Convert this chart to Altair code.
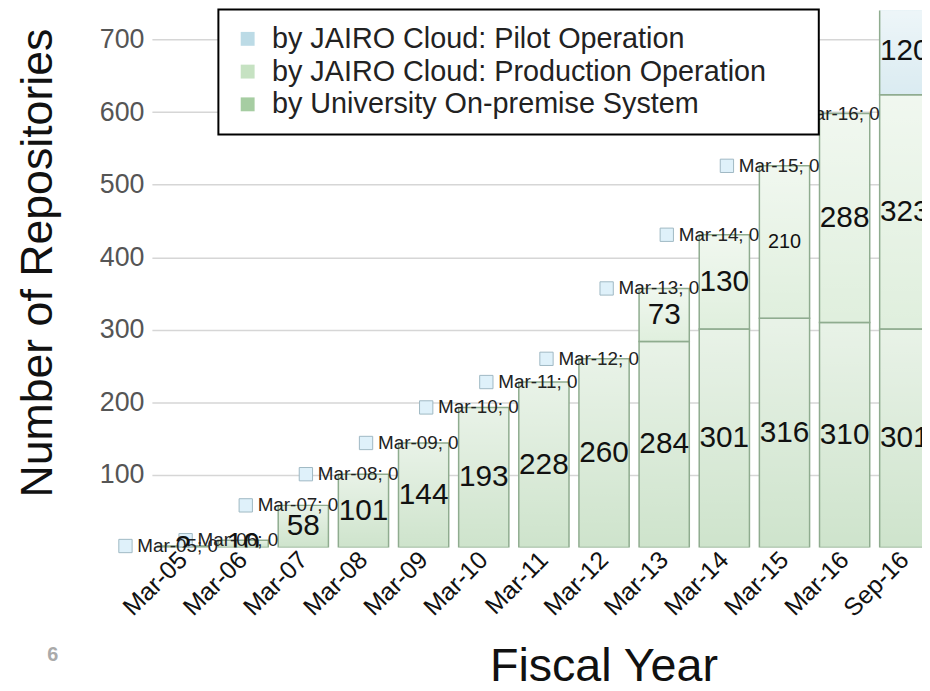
import altair as alt
import pandas as pd

# ---- data ----
categories = ["Mar-05", "Mar-06", "Mar-07", "Mar-08", "Mar-09", "Mar-10", "Mar-11",
              "Mar-12", "Mar-13", "Mar-14", "Mar-15", "Mar-16", "Sep-16"]
university = [2, 10, 58, 101, 144, 193, 228, 260, 284, 301, 316, 310, 301]
production = [0, 0, 0, 0, 0, 0, 0, 0, 73, 130, 210, 288, 323]
pilot = [0, 0, 0, 0, 0, 0, 0, 0, 0, 0, 0, 0, 120]

S_PILOT = "by JAIRO Cloud: Pilot Operation"
S_PROD = "by JAIRO Cloud: Production Operation"
S_UNIV = "by University On-premise System"
series_names = [S_PILOT, S_PROD, S_UNIV]
y_ticks = [100, 200, 300, 400, 500, 600, 700]

# styles
series_colors = ["#bcdbe6", "#c6e2c2", "#a6cda2"]
FONT = "Liberation Sans"

rows = []
for i, c in enumerate(categories):
    base = 0
    for name, vals in [(S_UNIV, university), (S_PROD, production), (S_PILOT, pilot)]:
        v = vals[i]
        rows.append(dict(cat=c, series=name, value=v, y0=base, y1=base + v, mid=base + v / 2))
        base += v
df = pd.DataFrame(rows)

x_enc = alt.X("cat:N", sort=categories,
              scale=alt.Scale(domain=categories, range=[0, 790], paddingInner=0.165, paddingOuter=0.1),
              axis=alt.Axis(title="Fiscal Year", labelAngle=315, labelAlign="right", labelBaseline="middle",
                            labelFont=FONT, labelFontSize=25, labelColor="#111", labelPadding=8,
                            ticks=False, domain=False, grid=False,
                            titleFont=FONT, titleFontSize=47, titleFontWeight="normal", titleColor="#111",
                            titleX=455, titleY=134, titleAlign="center", titleBaseline="alphabetic"))
x_plain = alt.X("cat:N", sort=categories)

y_scale = alt.Scale(domain=[0, 740], nice=False, zero=True)

base = alt.Chart(df)

bars = base.transform_filter("datum.value > 0").mark_bar(clip=True, strokeWidth=0).encode(
    x=x_enc,
    y=alt.Y("y1:Q", scale=y_scale,
            axis=alt.Axis(title="Number of Repositories", values=y_ticks, labelFont=FONT, labelFontSize=27,
                          labelColor="#555", labelPadding=8, ticks=False, domain=False,
                          gridColor="#d6d6d6", gridWidth=1.5,
                          titleFont=FONT, titleFontSize=45, titleFontWeight="normal", titleColor="#111",
                          titleAngle=270, titleX=-115, titleY=254, titleAlign="center",
                          titleBaseline="middle")),
    y2="y0:Q",
    color=alt.Color("series:N", scale=alt.Scale(domain=series_names, range=series_colors),
                    legend=alt.Legend(title="\u00a0", titleOrient="right", titlePadding=38,
                                      orient="none", legendX=67, legendY=-1, direction="vertical",
                                      symbolType="square", symbolSize=196, symbolStrokeWidth=0,
                                      symbolOpacity=1, labelFont=FONT, labelFontSize=29,
                                      labelLimit=700, labelColor="#222", labelOffset=10,
                                      rowPadding=3, padding=15,
                                      strokeColor="black", fillColor="white", zindex=1)),
)

overlay = base.transform_filter("datum.value > 0").mark_bar(
    clip=True,
    fill=alt.LinearGradient(gradient="linear",
                            stops=[alt.GradientStop(color="rgba(255,255,255,0.75)", offset=0),
                                   alt.GradientStop(color="rgba(255,255,255,0.45)", offset=1)],
                            x1=0, x2=0, y1=0, y2=1),
    stroke="#8fac8f", strokeWidth=1.5,
).encode(x=x_plain, y=alt.Y("y1:Q"), y2="y0:Q")

pilot_zero = base.transform_filter(
    (alt.datum.series == S_PILOT) & (alt.datum.value == 0)
).transform_calculate(label="datum.cat + '; ' + datum.value")

pilot_boxes = pilot_zero.mark_square(size=180, fill="#dff1fa", stroke="#9fb8c4", strokeWidth=1,
                                     opacity=1, xOffset=-58).encode(
    x=x_plain, y=alt.Y("y1:Q"))

pilot_text = pilot_zero.mark_text(align="left", baseline="middle", dx=-46, font=FONT, fontSize=19,
                                  color="#222").encode(
    x=x_plain, y=alt.Y("y1:Q"), text="label:N")

value_text = base.transform_filter("datum.value > 0").mark_text(
    align="center", baseline="middle", font=FONT, color="#111", clip=True).encode(
    x=x_plain, y=alt.Y("mid:Q"),
    text=alt.Text("value:Q"),
    size=alt.condition(alt.datum.value == 210, alt.value(20), alt.value(30)),
)

page_no = alt.Chart(pd.DataFrame({"t": ["6"]})).mark_text(
    font=FONT, fontSize=20, fontWeight="bold", color="#aaaaaa", align="center", baseline="middle"
).encode(x=alt.value(-100), y=alt.value(649), text="t:N")

chart = alt.layer(bars, overlay, pilot_boxes, pilot_text, value_text, page_no).properties(
    width=776, height=541,
    autosize=alt.AutoSizeParams(type="none"),
    padding={"left": 145, "top": 0, "right": 0, "bottom": 134},
).configure_view(stroke=None).configure_legend(strokeWidth=2)

chart.save("out.html", embed_options={"renderer": "svg", "actions": False})
